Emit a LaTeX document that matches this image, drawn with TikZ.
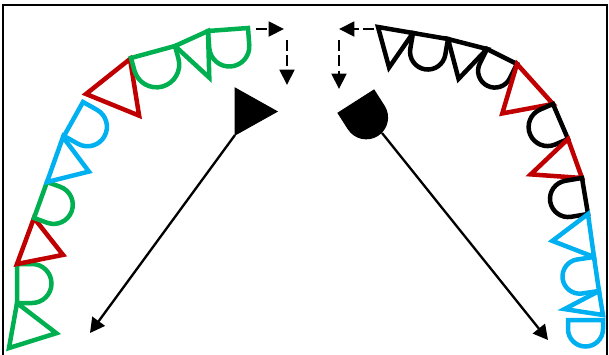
\documentclass[tikz,border=0pt]{standalone}
\usepackage{tikz}
\usetikzlibrary{arrows.meta,calc}
\definecolor{lgreen}{RGB}{0,176,80}
\definecolor{lred}{RGB}{192,0,0}
\definecolor{lblue}{RGB}{0,176,240}
\tikzset{
  sym/.style={line width=1.35mm},
  arr/.style={-{Triangle[length=4.4mm, width=4.6mm]}, line width=0.7mm},
  dasharr/.style={-{Triangle[length=4.6mm, width=4.4mm]}, line width=0.85mm, dash pattern=on 3.2mm off 1.4mm},
  frm/.style={line width=0.7mm},
}
% triangle: base #1--#2, tip #3 px to the inside
\newcommand{\tribox}[4]{%
  \draw[sym, #4] (#1) -- (#2) -- ($(#1)!0.5!(#2)!#3*0.3mm!-90:(#2)$) -- cycle;}
% D shape: flat side #1--#2, straight part #3 px, round end inside
\newcommand{\dbox}[4]{%
  \draw[sym, #4] let \p1=($(#2)-(#1)$), \n1={atan2(\y1,\x1)}, \n2={veclen(\x1,\y1)/2} in
    (#1) -- (#2) -- ($(#2)!#3*0.3mm!90:(#1)$)
    arc[start angle=\n1, end angle=\n1-180, radius=\n2] -- cycle;}

\begin{document}
\begin{tikzpicture}[x=0.03cm, y=-0.03cm]
  \useasboundingbox (0,0) rectangle (609,354);
  \clip (0,0) rectangle (609,354);
  \draw[frm] (3,5) rectangle (607,370);

  % left row, bottom to top
  \coordinate (l0) at (9,348);
  \coordinate (l1) at (17,303);
  \coordinate (l2) at (17,264);
  \coordinate (l3) at (34,218);
  \coordinate (l4) at (47,182);
  \coordinate (l5) at (63,137);
  \coordinate (l5b) at (64,136);
  \coordinate (l6) at (83,102);
  \coordinate (l6b) at (86,94);
  \coordinate (l7) at (130,59);
  \coordinate (l7b) at (131,58);
  \coordinate (l8) at (175,46);
  \coordinate (l9) at (208,31);
  \coordinate (l10) at (248,28);
  \tribox{l0}{l1}{44}{lgreen}
  \dbox{l1}{l2}{15}{lgreen}
  \tribox{l2}{l3}{40}{lred}
  \dbox{l3}{l4}{14}{lgreen}
  \tribox{l4}{l5}{36}{lblue}
  \dbox{l5b}{l6}{16}{lblue}
  \tribox{l6b}{l7}{50}{lred}
  \dbox{l7b}{l8}{13}{lgreen}
  \tribox{l8}{l9}{43}{lgreen}
  \dbox{l9}{l10}{17}{lgreen}

  % right row, top to bottom
  \coordinate (r0) at (378,27);
  \coordinate (r1) at (413,33);
  \coordinate (r2) at (448,39);
  \coordinate (r3) at (487,49);
  \coordinate (r4) at (517,64);
  \coordinate (r5) at (553,104);
  \coordinate (r6) at (568,139);
  \coordinate (r7) at (582,178);
  \coordinate (r8) at (588,214);
  \coordinate (r9) at (594,257);
  \coordinate (r10) at (599,291);
  \coordinate (r11) at (603,315);
  \coordinate (r12) at (568,320);
  \coordinate (r13) at (603,320);
  \tribox{r0}{r1}{38}{black}
  \dbox{r1}{r2}{16}{black}
  \tribox{r2}{r3}{36}{black}
  \dbox{r3}{r4}{16}{black}
  \tribox{r4}{r5}{44}{lred}
  \dbox{r5}{r6}{14}{black}
  \tribox{r6}{r7}{47}{lred}
  \dbox{r7}{r8}{17}{black}
  \tribox{r8}{r9}{39}{lblue}
  \dbox{r9}{r10}{17}{lblue}
  \tribox{r10}{r11}{37}{lblue}
  \dbox{r12}{r13}{9}{lblue}

  % middle pair
  \coordinate (ta) at (235,135);
  \coordinate (tb) at (235,88);
  \coordinate (da) at (338,113);
  \coordinate (db) at (374,90);
  \tribox{ta}{tb}{42}{fill=black, line width=0.3mm}
  \dbox{da}{db}{19}{fill=black, line width=0.3mm}
  \coordinate (dout) at (382,133);
  \coordinate (lend) at (90,333);
  \coordinate (rend) at (548,340);
  \draw[arr] (ta) -- (lend);
  \draw[arr] (dout) -- (rend);

  % dashed turns
  \coordinate (h1) at (256,29);
  \coordinate (h2) at (284,29);
  \coordinate (v1) at (287,40);
  \coordinate (v2) at (287,85);
  \coordinate (h3) at (374,29);
  \coordinate (h4) at (339,29);
  \coordinate (v3) at (339,40);
  \coordinate (v4) at (339,89);
  \draw[dasharr] (h1) -- (h2);
  \draw[dasharr] (v1) -- (v2);
  \draw[dasharr] (h3) -- (h4);
  \draw[dasharr] (v3) -- (v4);
\end{tikzpicture}
\end{document}
